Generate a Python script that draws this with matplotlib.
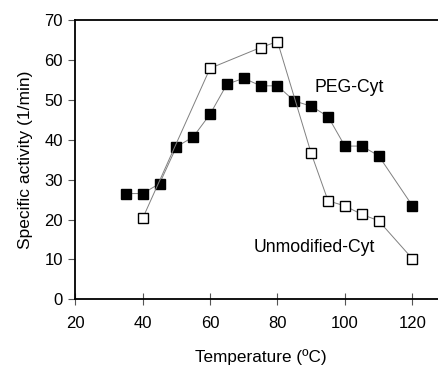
import matplotlib
matplotlib.use("Agg")
import matplotlib.pyplot as plt

plt.rcParams['font.family'] = ['Liberation Sans', 'DejaVu Sans']

peg_x = [35, 40, 45, 50, 55, 60, 65, 70, 75, 80, 85, 90, 95, 100, 105, 110, 120]
peg_y = [26.5, 26.5, 29.0, 38.2, 40.7, 46.4, 53.9, 55.4, 53.5, 53.5, 49.7, 48.4, 45.8, 38.4, 38.4, 36.0, 23.5]
unm_x = [40, 60, 75, 80, 90, 95, 100, 105, 110, 120]
unm_y = [20.3, 57.9, 63.1, 64.6, 36.6, 24.7, 23.4, 21.3, 19.7, 10.2]
xticks = [20, 40, 60, 80, 100, 120]
yticks = [0, 10, 20, 30, 40, 50, 60, 70]

fig = plt.figure(figsize=(4.39, 3.66), dpi=100)
ax = fig.add_axes([0.1715, 0.1822, 0.8444, 0.7632])

ax.plot(peg_x, peg_y, color='#808080', lw=0.7, marker='s', ms=7,
        mfc='black', mec='black', zorder=3)
ax.plot(unm_x, unm_y, color='#808080', lw=0.7, marker='s', ms=6.5,
        mfc='white', mec='black', mew=1.0, zorder=3)

ax.text(101.2, 53, 'PEG-Cyt', fontsize=12.7, ha='center', va='center')
ax.text(91, 12.9, 'Unmodified-Cyt', fontsize=12.7, ha='center', va='center')

ax.set_xlim(20, 130)
ax.set_ylim(0, 70)
ax.set_xticks(xticks)
ax.set_yticks(yticks)
ax.spines['right'].set_visible(False)
for s in ['left', 'bottom', 'top']:
    ax.spines[s].set_linewidth(1.3)
ax.tick_params(axis='x', direction='inout', length=8, width=0.8, color='#555555',
               labelsize=12, pad=8)
ax.tick_params(axis='y', direction='out', length=5, width=0.8, color='#555555',
               labelsize=12, pad=4)
ax.set_xlabel('Temperature (ºC)', fontsize=12.3, labelpad=13)
ax.set_ylabel('Specific activity (1/min)', fontsize=12.5, labelpad=8)

fig.savefig('out.png', dpi=100)
